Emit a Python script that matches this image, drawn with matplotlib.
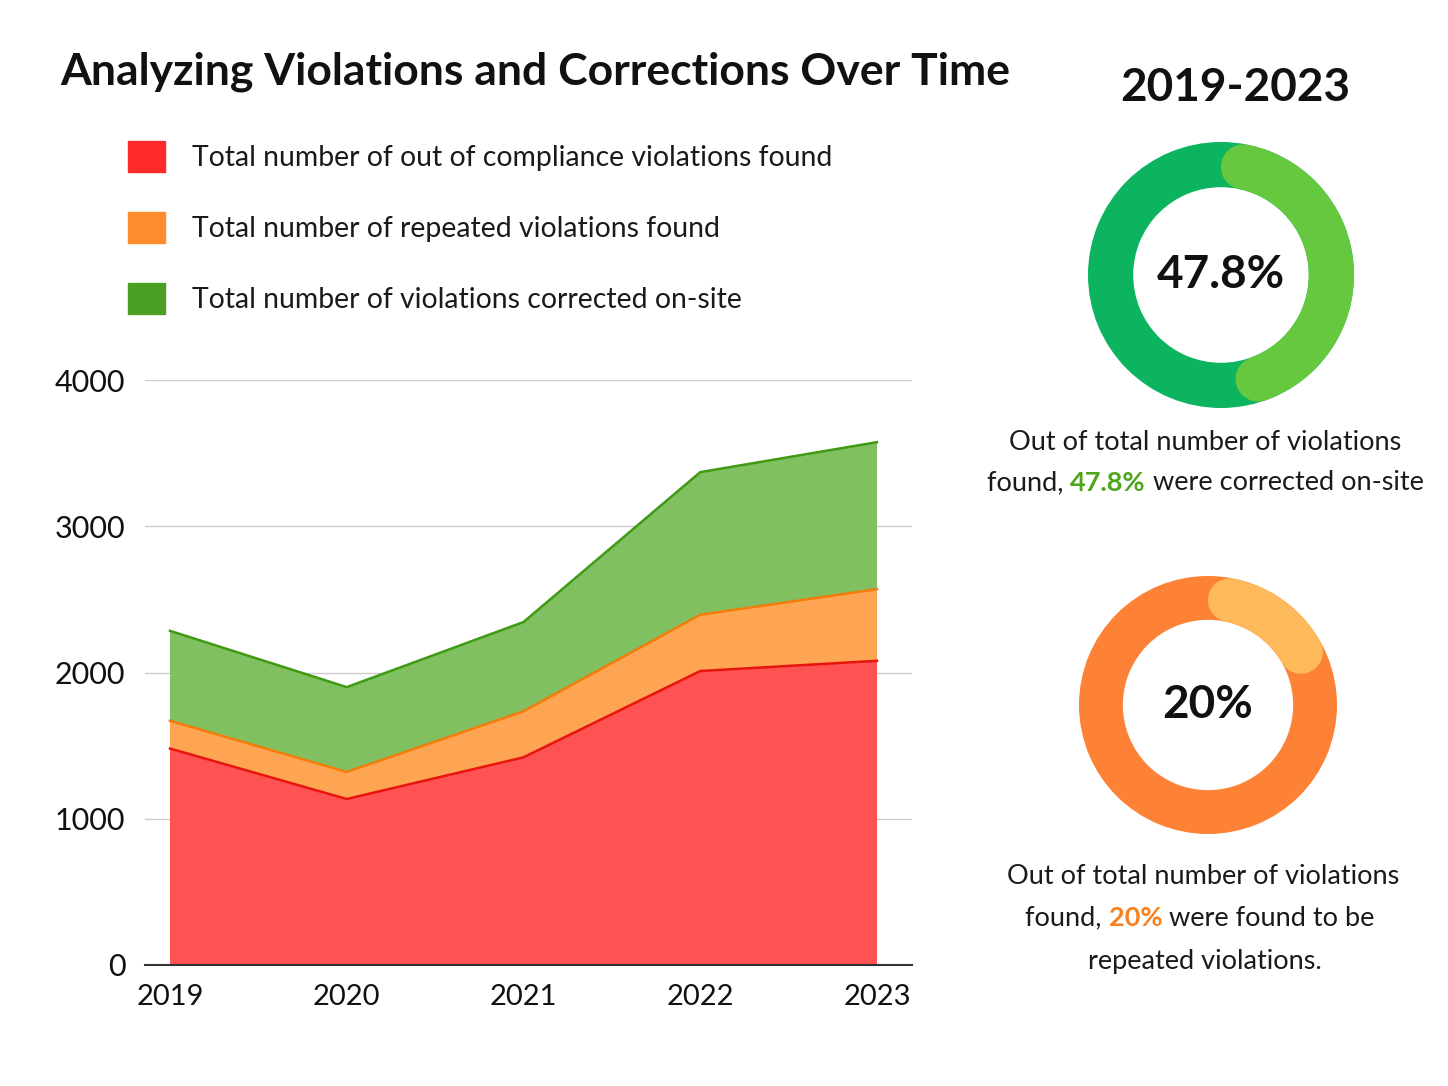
import numpy as np
import matplotlib
matplotlib.use("Agg")
import matplotlib.pyplot as plt
from matplotlib.patches import Patch

plt.rcParams['font.family'] = ['Lato', 'DejaVu Sans']

# data
years = [2019, 2020, 2021, 2022, 2023]
out_of_compliance = [1480, 1135, 1420, 2010, 2080]
repeated = [190, 185, 315, 385, 490]
corrected = [615, 580, 610, 975, 1005]
y_ticks = [0, 1000, 2000, 3000, 4000]

pct_corrected = 47.8
pct_repeated = 20

legend_labels = ['Total number of out of compliance violations found',
                 'Total number of repeated violations found',
                 'Total number of violations corrected on-site']

W, H = 1448, 1086
fig = plt.figure(figsize=(W / 100, H / 100), dpi=100)
fig.patch.set_facecolor('white')


def fx(x):
    return x / W


def fy(y):
    return 1 - y / H


# main area chart
ax = fig.add_axes([fx(145), fy(965), fx(912) - fx(145), fy(380) - fy(965)])
fills = ['#ff5252', '#fda552', '#80c060']
lines = ['#e8150f', '#f47c0a', '#3f9a14']
ax.stackplot(years, out_of_compliance, repeated, corrected, colors=fills, zorder=2)
cum = np.cumsum([out_of_compliance, repeated, corrected], axis=0)
for c, col in zip(cum, lines):
    ax.plot(years, c, color=col, lw=1.8, zorder=3)

ax.set_xlim(2019 - 25 / 176.75, 2023 + 35 / 176.75)
ax.set_ylim(0, 4000)
ax.set_yticks(y_ticks)
ax.set_xticks(years)
ax.grid(axis='y', color='#cccccc', lw=1, zorder=0)
ax.set_axisbelow(True)
for s in ['top', 'right', 'left']:
    ax.spines[s].set_visible(False)
ax.spines['bottom'].set_color('#333333')
ax.spines['bottom'].set_linewidth(1.5)
ax.tick_params(length=0, colors='#111111')
ax.tick_params(axis='y', pad=14, labelsize=22)
ax.tick_params(axis='x', pad=14, labelsize=21)

# title
fig.text(fx(60), fy(72), 'Analyzing Violations and Corrections Over Time',
         fontsize=32, fontweight='bold', ha='left', va='center', color='#111111')

# legend
handles = [Patch(color=c) for c in ['#ff2b2b', '#ff8c2e', '#4b9f22']]
fig.legend(handles, legend_labels, loc='upper left',
           bbox_to_anchor=(fx(128), fy(141)), frameon=False, fontsize=20.4,
           handlelength=1.3, handleheight=1.3, handletextpad=0.95,
           labelspacing=1.42, borderpad=0, borderaxespad=0,
           labelcolor='#1a1a1a')

fig.text(fx(1235), fy(88), '2019-2023', fontsize=33, fontweight='bold',
         ha='center', va='center', color='#111111')


def donut(cx, cy, r, pct, base, hi, label):
    dax = fig.add_axes([fx(cx - r), fy(cy + r), 2 * r / W, 2 * r / H])
    width = 0.34
    dax.pie([1], colors=[base], radius=1, startangle=90,
            wedgeprops=dict(width=width, linewidth=0))
    rmid = 1 - width / 2
    cap = np.degrees((width / 2) / rmid)
    th = np.radians(90 - np.linspace(cap, pct / 100 * 360 - cap, 200))
    lw_pt = width * r * 72 / 100
    dax.plot(rmid * np.cos(th), rmid * np.sin(th), color=hi, lw=lw_pt,
             solid_capstyle='round')
    dax.set_xlim(-1, 1)
    dax.set_ylim(-1, 1)
    dax.set_aspect('equal')
    dax.axis('off')
    dax.text(0, 0, label, ha='center', va='center', fontsize=33,
             fontweight='bold', color='#111111')


donut(1221, 275, 133, pct_corrected, '#0db460', '#66c83f', f'{pct_corrected}%')
donut(1208, 705, 129, pct_repeated, '#fd8236', '#fdb95a', f'{pct_repeated}%')

renderer = fig.canvas.get_renderer()


def rich_line(pieces, cx, cy, size=19.5):
    texts, widths = [], []
    for s, col, w in pieces:
        t = fig.text(0, 0, s, color=col, fontweight=w, fontsize=size,
                     ha='left', va='center')
        widths.append(t.get_window_extent(renderer).width)
        texts.append(t)
    x = cx - sum(widths) / 2
    for t, wd in zip(texts, widths):
        t.set_position((fx(x), fy(cy)))
        x += wd


dark = '#1a1a1a'
rich_line([('Out of total number of violations', dark, 'normal')], 1205, 442)
rich_line([('found, ', dark, 'normal'), (f'{pct_corrected}%', '#4ea61c', 'bold'),
           (' were corrected on-site', dark, 'normal')], 1205, 483)
rich_line([('Out of total number of violations', dark, 'normal')], 1203, 876)
rich_line([('found, ', dark, 'normal'), (f'{pct_repeated}%', '#f7821d', 'bold'),
           (' were found to be', dark, 'normal')], 1200, 918)
rich_line([('repeated violations.', dark, 'normal')], 1205, 962)

fig.savefig('out.png', dpi=100)
